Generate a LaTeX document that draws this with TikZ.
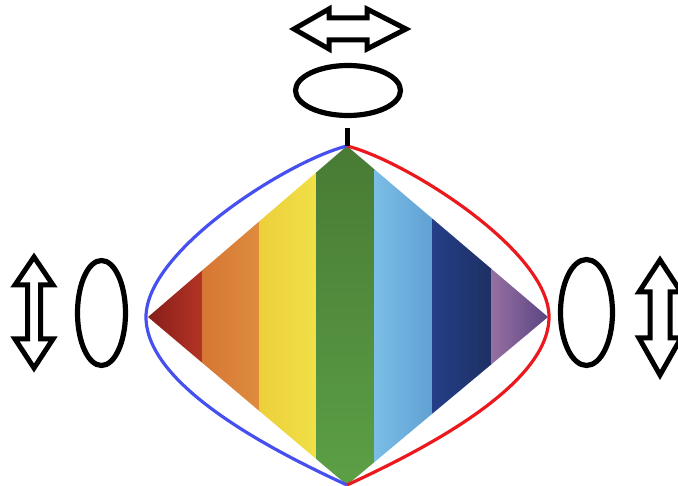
\documentclass[tikz,border=0pt]{standalone}
\usetikzlibrary{shapes.geometric}
\definecolor{blueline}{RGB}{70,80,240}
\definecolor{redline}{RGB}{235,25,30}
\tikzset{
  ring/.style={ellipse,draw=black,line width=5.2pt,inner sep=0pt,fill=white},
  dblarrow/.style={draw=black,line width=5pt,line join=miter,fill=white},
  bulge/.style={line width=3.2pt}
}
\begin{document}
\begin{tikzpicture}[x=1pt,y=-1pt]
\useasboundingbox (0,0) rectangle (678,486);
% diamond vertices
\coordinate (T) at (347,146);
\coordinate (L) at (148,317);
\coordinate (R) at (548,317);
\coordinate (B) at (347,485);
% rainbow stripes
\begin{scope}
\clip (T) -- (R) -- (B) -- (L) -- cycle;
\shade[left color={rgb,255:red,135;green,30;blue,25},right color={rgb,255:red,180;green,52;blue,38}] (148,140) rectangle (202.5,490);
\shade[left color={rgb,255:red,214;green,118;blue,52},right color={rgb,255:red,222;green,140;blue,62}] (202,140) rectangle (260,490);
\shade[left color={rgb,255:red,236;green,208;blue,58},right color={rgb,255:red,240;green,224;blue,72}] (259.5,140) rectangle (317,490);
\shade[top color={rgb,255:red,72;green,122;blue,52},bottom color={rgb,255:red,92;green,160;blue,70}] (316.5,140) rectangle (375,490);
\shade[left color={rgb,255:red,122;green,190;blue,230},right color={rgb,255:red,96;green,160;blue,212}] (374.5,140) rectangle (433,490);
\shade[left color={rgb,255:red,36;green,62;blue,135},right color={rgb,255:red,30;green,48;blue,100}] (432.5,140) rectangle (491.5,490);
\shade[left color={rgb,255:red,150;green,112;blue,162},right color={rgb,255:red,88;green,68;blue,128}] (491,140) rectangle (550,490);
\end{scope}
% bulging curves
\draw[bulge,draw=blueline] (T) .. controls (290,160) and (146,250) .. (146,317)
      .. controls (146,388) and (282,455) .. (B);
\draw[bulge,draw=redline] (T) .. controls (404,160) and (549,250) .. (549,317)
      .. controls (549,388) and (412,455) .. (B);
% small stem above the top vertex
\coordinate (stemtop) at (347,128);
\draw[line width=5pt] (stemtop) -- (T);
% ellipses
\node[ring,minimum width=105pt,minimum height=50pt] (topring) at (348,90.5) {};
\node[ring,minimum width=48pt,minimum height=105pt] (leftring) at (101.5,313) {};
\node[ring,minimum width=52pt,minimum height=106pt] (rightring) at (586.5,312.5) {};
% horizontal double arrow (top)
\draw[dblarrow] (294,29) -- (329,9) -- (329,18) -- (367,18) -- (367,9) -- (406,29)
  -- (367,49) -- (367,40) -- (329,40) -- (329,49) -- cycle;
% left vertical double arrow
\draw[dblarrow] (34,257) -- (53,285) -- (40.5,285) -- (40.5,339) -- (53,339) -- (34,368)
  -- (15,339) -- (27.5,339) -- (27.5,285) -- (15,285) -- cycle;
% right vertical double arrow
\draw[dblarrow] (660,260) -- (681,292) -- (670,292) -- (670,338) -- (681,338) -- (660,375)
  -- (639,338) -- (650,338) -- (650,292) -- (639,292) -- cycle;
\end{tikzpicture}
\end{document}
